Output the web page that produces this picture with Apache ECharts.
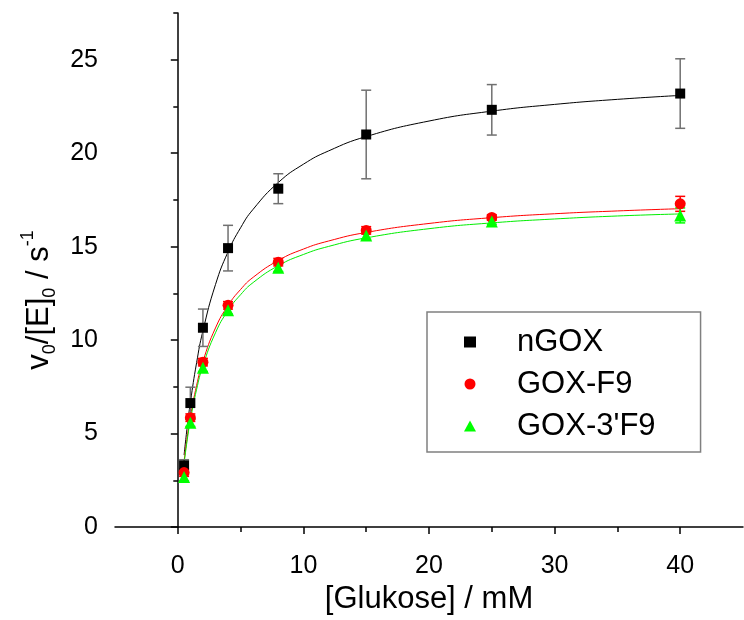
<!DOCTYPE html>
<html><head><meta charset="utf-8">
<script src="https://cdn.jsdelivr.net/npm/echarts@6/dist/echarts.min.js"></script>
<style>html,body{margin:0;padding:0;background:#fff}#c{width:744px;height:620px}</style>
</head><body><div id="c"></div>
<script>
// Data
const glucose = [0.5, 1, 2, 4, 8, 15, 25, 40];
const nGOX = [3.3, 6.63, 10.66, 14.92, 18.1, 21.0, 22.32, 23.19];
const nGOXErr = [0.3, 0.85, 1.0, 1.22, 0.8, 2.37, 1.35, 1.86];
const gF9 = [2.91, 5.85, 8.82, 11.86, 14.17, 15.87, 16.56, 17.29];
const gF9Err = [0.2, 0.2, 0.2, 0.2, 0.2, 0.2, 0.15, 0.4];
const g3F9 = [2.67, 5.58, 8.52, 11.59, 13.87, 15.6, 16.35, 16.67];
const g3F9Err = [0.2, 0.2, 0.2, 0.2, 0.2, 0.2, 0.15, 0.4];
// Fitted curves
const fitX = [0.5, 0.75, 1, 1.5, 2, 3, 4, 5, 6, 8, 10, 12, 15, 20, 25, 30, 35, 40];
const fitNGOX = [3.85, 5.36, 6.66, 8.80, 10.49, 12.97, 14.72, 16.01, 17.0, 18.43, 19.41, 20.12, 20.89, 21.72, 22.25, 22.61, 22.88, 23.09];
const fitF9 = [3.52, 4.81, 5.89, 7.58, 8.86, 10.65, 11.85, 12.71, 13.36, 14.26, 14.87, 15.30, 15.76, 16.24, 16.55, 16.76, 16.91, 17.03];
const fit3F9 = [3.40, 4.66, 5.71, 7.37, 8.62, 10.39, 11.58, 12.43, 13.08, 13.98, 14.58, 15.01, 15.47, 15.96, 16.27, 16.48, 16.64, 16.75];
const xMajor = [0, 10, 20, 30, 40];
const xMinor = [5, 15, 25, 35];
const yMajor = [0, 5, 10, 15, 20, 25];
const yMinor = [2.5, 7.5, 12.5, 17.5, 22.5, 27.5];

const FONT = 'Liberation Sans, Arial, sans-serif';
const zip = (xs, ys) => xs.map((x, i) => [x, ys[i]]);
const errData = (ys, es) => glucose.map((x, i) => [x, ys[i] - es[i], ys[i] + es[i]]);

function errSeries(name, ys, es, color) {
  return {
    type: 'custom', name: name, z: 3,
    data: errData(ys, es),
    renderItem: function (params, api) {
      const x = api.value(0);
      const lo = api.coord([x, api.value(1)]);
      const hi = api.coord([x, api.value(2)]);
      const w = 5;
      const st = { stroke: color, lineWidth: 1.5 };
      return { type: 'group', children: [
        { type: 'line', shape: { x1: lo[0], y1: lo[1], x2: hi[0], y2: hi[1] }, style: st },
        { type: 'line', shape: { x1: lo[0] - w, y1: lo[1], x2: lo[0] + w, y2: lo[1] }, style: st },
        { type: 'line', shape: { x1: hi[0] - w, y1: hi[1], x2: hi[0] + w, y2: hi[1] }, style: st }
      ]};
    },
    silent: true
  };
}

const chart = echarts.init(document.getElementById('c'));
chart.setOption({
  animation: false,
  backgroundColor: '#fff',
  grid: { left: 115, right: 1, top: 13, bottom: 93 },
  legend: {
    orient: 'vertical', left: 427, top: 312,
    borderColor: '#808080', borderWidth: 1.5,
    padding: [12, 45, 8, 37],
    itemWidth: 12, itemHeight: 11, itemGap: 6,
    textStyle: { fontSize: 31, lineHeight: 36, fontFamily: FONT, color: '#000', padding: [0, 0, 0, 36] },
    data: ['nGOX', 'GOX-F9', "GOX-3'F9"]
  },
  xAxis: [{
    type: 'value', min: -5, max: 45,
    name: '[Glukose] / mM', nameLocation: 'middle', nameGap: 56,
    nameTextStyle: { fontSize: 31, fontFamily: FONT, color: '#000' },
    axisLine: { onZero: false, lineStyle: { color: '#000', width: 1.5 } },
    axisTick: { show: true, length: 7, customValues: xMajor, lineStyle: { color: '#000', width: 1.5 } },
    axisLabel: { customValues: xMajor, margin: 27, fontSize: 25, fontFamily: FONT, color: '#000' },
    splitLine: { show: false }
  }, {
    type: 'value', min: -5, max: 45, position: 'bottom',
    axisLine: { show: false },
    axisTick: { show: true, length: 5, customValues: xMinor, lineStyle: { color: '#000', width: 1.5 } },
    axisLabel: { show: false },
    splitLine: { show: false }
  }],
  yAxis: [{
    type: 'value', min: 0, max: 27.5,
    name: 'v{sub|0}/[E]{sub|0} / s{sup|-1}',
    nameLocation: 'middle', nameGap: 55, nameRotate: 90,
    nameTextStyle: {
      fontSize: 31, fontFamily: FONT, color: '#000', lineHeight: 40,
      padding: [0, 60, 0, 0],
      rich: {
        sub: { fontSize: 18, fontFamily: FONT, color: '#000', verticalAlign: 'bottom', lineHeight: 40, padding: [14, 0, 0, 0] },
        sup: { fontSize: 18, fontFamily: FONT, color: '#000', verticalAlign: 'top', lineHeight: 40, padding: [0, 0, 16, 0] }
      }
    },
    axisLine: { show: true, lineStyle: { color: '#000', width: 1.5 } },
    axisTick: { show: true, length: 7, customValues: yMajor, lineStyle: { color: '#000', width: 1.5 } },
    axisLabel: { customValues: yMajor, margin: 17, fontSize: 25, fontFamily: FONT, color: '#000' },
    splitLine: { show: false }
  }, {
    type: 'value', min: 0, max: 27.5, position: 'left',
    axisLine: { show: false },
    axisTick: { show: true, length: 4.5, customValues: yMinor, lineStyle: { color: '#000', width: 1.5 } },
    axisLabel: { show: false },
    splitLine: { show: false }
  }],
  series: [
    { type: 'line', name: 'fit nGOX', data: zip(fitX, fitNGOX), smooth: true, showSymbol: false, lineStyle: { color: '#000', width: 1 }, z: 2, silent: true },
    { type: 'line', name: 'fit F9', data: zip(fitX, fitF9), smooth: true, showSymbol: false, lineStyle: { color: '#ff0000', width: 1 }, z: 2, silent: true },
    { type: 'line', name: 'fit 3F9', data: zip(fitX, fit3F9), smooth: true, showSymbol: false, lineStyle: { color: '#00ee00', width: 1 }, z: 2, silent: true },
    errSeries('err nGOX', nGOX, nGOXErr, '#707070'),
    errSeries('err F9', gF9, gF9Err, '#ff0000'),
    errSeries('err 3F9', g3F9, g3F9Err, '#00ff00'),
    { type: 'scatter', name: 'nGOX', data: zip(glucose, nGOX), symbol: 'rect', symbolSize: 10, itemStyle: { color: '#000', opacity: 1 }, z: 5 },
    { type: 'scatter', name: 'GOX-F9', data: zip(glucose, gF9), symbol: 'circle', symbolSize: 11, itemStyle: { color: '#ff0000', opacity: 1 }, z: 5 },
    { type: 'scatter', name: "GOX-3'F9", data: zip(glucose, g3F9), symbol: 'triangle', symbolSize: 12, itemStyle: { color: '#00ff00', opacity: 1 }, z: 5 }
  ]
});
</script></body></html>
